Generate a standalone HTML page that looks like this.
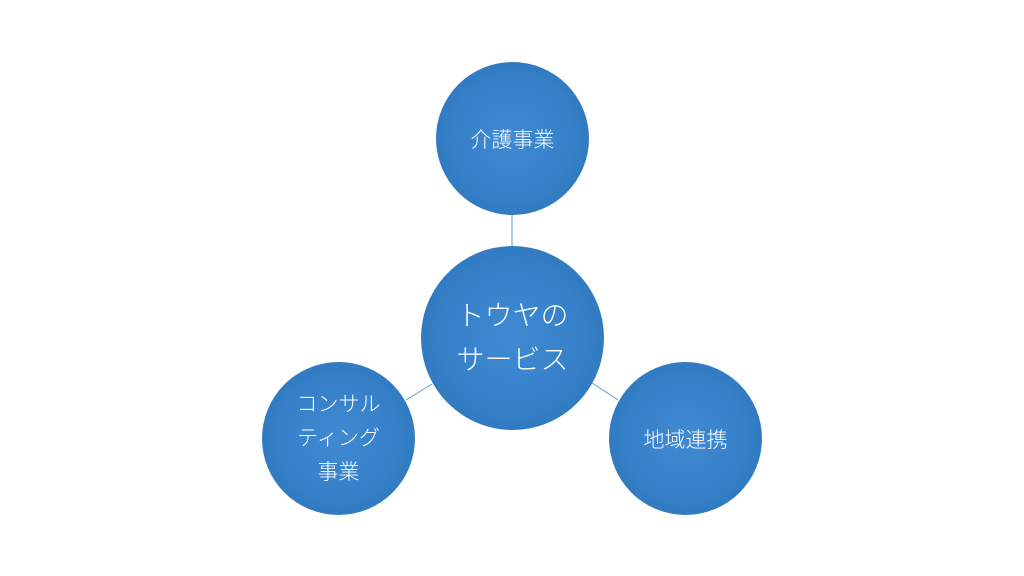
<!DOCTYPE html>
<html><head><meta charset="utf-8"><style>
html,body{margin:0;padding:0;background:#fff;}
body{width:1024px;height:576px;position:relative;overflow:hidden;font-family:"Liberation Sans","Noto Sans CJK JP",sans-serif;}
.c{position:absolute;border-radius:50%;background:radial-gradient(circle at 50% 50%,#3f8ad2 0%,#3580c8 55%,#2c71b5 100%);color:#fff;display:flex;align-items:center;justify-content:center;text-align:center;box-sizing:border-box;font-weight:300;}
</style></head><body>
<svg width="1024" height="576" style="position:absolute;left:0;top:0">
<line x1="512" y1="214" x2="512" y2="246" stroke="#5b9bd5" stroke-width="1"/>
<line x1="406" y1="400" x2="432" y2="384" stroke="#5b9bd5" stroke-width="1"/>
<line x1="592" y1="383" x2="618" y2="400" stroke="#5b9bd5" stroke-width="1"/>
</svg>
<div class="c" style="left:436px;top:62px;width:153px;height:153px;font-size:21px;">介護事業</div>
<div class="c" style="left:421px;top:246px;width:183px;height:184px;font-size:28px;line-height:44px;">トウヤの<br>サービス</div>
<div class="c" style="left:262px;top:362px;width:153px;height:153px;font-size:21px;line-height:34px;">コンサル<br>ティング<br>事業</div>
<div class="c" style="left:609px;top:362px;width:153px;height:153px;font-size:21px;">地域連携</div>
</body></html>
